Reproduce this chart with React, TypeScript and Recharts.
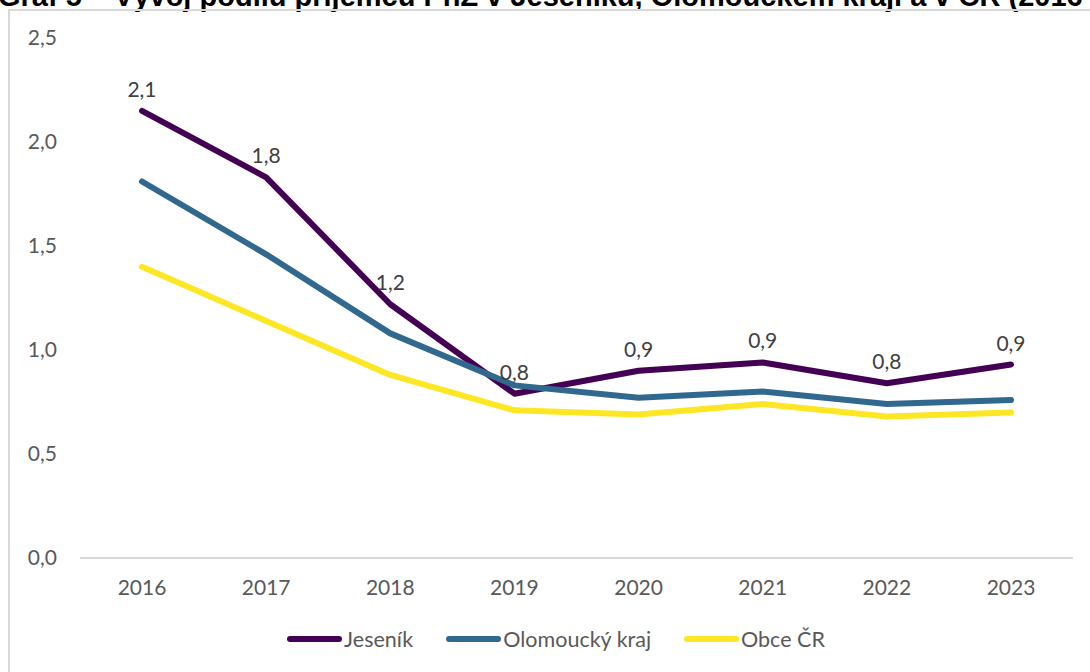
import React from 'react';
import { LineChart, Line, XAxis, YAxis, LabelList } from 'recharts';

// Years on the x axis
const years = ['2016', '2017', '2018', '2019', '2020', '2021', '2022', '2023'];

// Share of recipients (%)
const jesenik = [2.15, 1.83, 1.22, 0.79, 0.90, 0.94, 0.84, 0.93];
const olomoucky = [1.81, 1.46, 1.08, 0.83, 0.77, 0.80, 0.74, 0.76];
const obceCR = [1.40, 1.14, 0.88, 0.71, 0.69, 0.74, 0.68, 0.70];

const yTicks = [0, 0.5, 1.0, 1.5, 2.0, 2.5];

const series = [
  { key: 'jesenik', name: 'Jeseník', color: '#440154' },
  { key: 'olomoucky', name: 'Olomoucký kraj', color: '#31688e' },
  { key: 'obce', name: 'Obce ČR', color: '#fde725' },
];

const data = years.map((year, i) => ({
  year,
  jesenik: jesenik[i],
  olomoucky: olomoucky[i],
  obce: obceCR[i],
}));

const fmt = (v: number) => v.toFixed(1).replace('.', ',');
const FONT = 'Lato, "Noto Sans", sans-serif';

const App: React.FC = () => {
  return (
    <div style={{ position: 'absolute', left: 0, top: 0, width: 1090, height: 672, overflow: 'hidden', background: '#fff' }}>
      <div
        style={{
          position: 'absolute',
          left: -2,
          top: -18,
          whiteSpace: 'nowrap',
          fontFamily: '"Liberation Sans", Arial, sans-serif',
          fontWeight: 'bold',
          fontSize: 29,
          lineHeight: '29px',
          color: '#000',
        }}
      >
        Graf 5 – Vývoj podílu příjemců PnZ v Jeseníku, Olomouckém kraji a v ČR (2016–2023)
      </div>
      <div
        style={{
          position: 'absolute',
          left: 8,
          top: 9,
          width: 1200,
          height: 800,
          border: '2px solid #d9d9d9',
          boxSizing: 'border-box',
        }}
      />
      <div style={{ position: 'absolute', left: 0, top: 0 }}>
        <LineChart width={1090} height={672} data={data} margin={{ top: 38, right: 17, left: 20, bottom: 74 }}>
          <XAxis
            dataKey="year"
            height={40}
            padding={{ left: 62, right: 62 }}
            tickLine={false}
            tickSize={0}
            tickMargin={22}
            axisLine={{ stroke: '#d9d9d9', strokeWidth: 2 }}
            tick={{ fill: '#595959', fontSize: 21, fontFamily: FONT }}
          />
          <YAxis
            width={60}
            domain={[0, 2.5]}
            ticks={yTicks}
            tickFormatter={fmt}
            tickLine={false}
            axisLine={false}
            tickSize={0}
            tickMargin={23}
            tick={{ fill: '#595959', fontSize: 21, fontFamily: FONT }}
          />
          {series.map((s) => (
            <Line
              key={s.key}
              type="linear"
              dataKey={s.key}
              name={s.name}
              stroke={s.color}
              strokeWidth={6}
              strokeLinecap="round"
              strokeLinejoin="round"
              dot={false}
              activeDot={false}
              isAnimationActive={false}
            >
              {s.key === 'jesenik' && (
                <LabelList
                  dataKey={s.key}
                  position="top"
                  offset={14}
                  formatter={(v: number) => fmt(v)}
                  style={{ fill: '#404040', fontSize: 21, fontFamily: FONT }}
                />
              )}
            </Line>
          ))}
        </LineChart>
      </div>
      <div
        style={{
          position: 'absolute',
          left: 0,
          top: 626,
          width: 1090,
          display: 'flex',
          justifyContent: 'center',
          alignItems: 'center',
          gap: 33,
          paddingLeft: 22,
          boxSizing: 'border-box',
          fontFamily: FONT,
          fontSize: 21.5,
          color: '#595959',
        }}
      >
        {series.map((s) => (
          <div key={s.key} style={{ display: 'flex', alignItems: 'center' }}>
            <span style={{ display: 'inline-block', width: 55, height: 6, borderRadius: 3, background: s.color, marginRight: 2 }} />
            <span>{s.name}</span>
          </div>
        ))}
      </div>
    </div>
  );
};

export default App;
